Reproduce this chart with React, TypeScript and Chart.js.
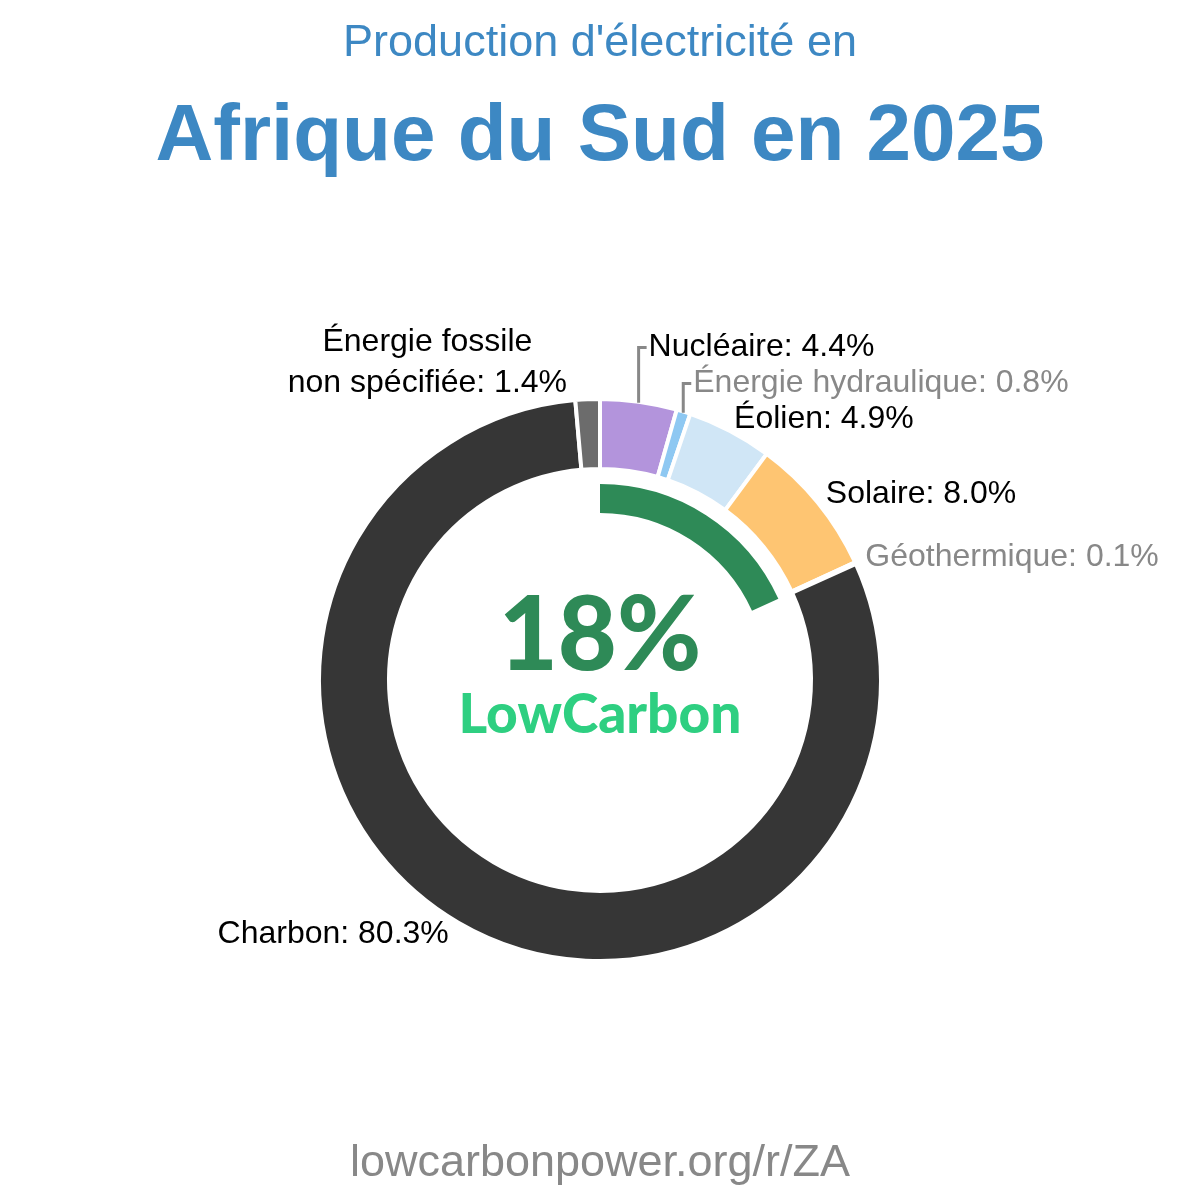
import React, { useEffect, useRef } from "react";
import { Chart, registerables } from "chart.js";

Chart.register(...registerables);

// ---- Data ----
const SOURCES = [
  "Nucléaire",
  "Énergie hydraulique",
  "Éolien",
  "Solaire",
  "Géothermique",
  "Charbon",
  "Énergie fossile non spécifiée",
];
const SHARES = [4.4, 0.8, 4.9, 8.0, 0.1, 80.3, 1.4];
const COLORS = ["#b394dc", "#8ec8f2", "#d0e6f6", "#fec572", "#d4673b", "#363636", "#6c6c6c"];
const IS_LOW_CARBON = [true, true, true, true, true, false, false];

const TITLE_LINE_1 = "Production d'électricité en";
const TITLE_LINE_2 = "Afrique du Sud en 2025";
const FOOTER = "lowcarbonpower.org/r/ZA";
const BRAND = "LowCarbon";

const LOW_CARBON_SHARE = SHARES.reduce((s, v, i) => (IS_LOW_CARBON[i] ? s + v : s), 0);

// ---- Styles ----
const TITLE_COLOR = "#3d88c3";
const GREEN_DARK = "#2e8a57";
const GREEN_BRAND = "#2ecf81";
const SANS = '"Liberation Sans", Arial, sans-serif';
const LATO = 'Lato, "Noto Sans", sans-serif';

function wrapName(name: string): string[] {
  if (name.length <= 24) return [name];
  const mid = name.length / 2;
  let best = -1;
  for (let i = 0; i < name.length; i++) {
    if (name[i] === " " && (best < 0 || Math.abs(i - mid) < Math.abs(best - mid))) best = i;
  }
  if (best < 0) return [name];
  return [name.slice(0, best), name.slice(best + 1)];
}

const decorPlugin = {
  id: "decor",
  afterDraw(chart: any) {
    const ctx: CanvasRenderingContext2D = chart.ctx;
    const W = chart.width;
    const meta = chart.getDatasetMeta(0);
    ctx.save();

    // Titles
    ctx.fillStyle = TITLE_COLOR;
    ctx.textAlign = "center";
    ctx.textBaseline = "alphabetic";
    ctx.font = `45px ${SANS}`;
    ctx.fillText(TITLE_LINE_1, W / 2, 56);
    ctx.font = `bold 80px ${SANS}`;
    ctx.fillText(TITLE_LINE_2, W / 2, 160);

    // Footer
    ctx.fillStyle = "#888888";
    ctx.font = `45px ${SANS}`;
    ctx.fillText(FOOTER, W / 2, 1176);

    const first = meta.data[0];
    const cx = first.x;
    const cy = first.y;

    // Center text
    ctx.fillStyle = GREEN_DARK;
    ctx.font = `900 102px ${LATO}`;
    ctx.fillText(`${Math.round(LOW_CARBON_SHARE)}%`, cx, cy - 10);
    ctx.fillStyle = GREEN_BRAND;
    ctx.font = `900 55px ${LATO}`;
    ctx.fillText(BRAND, cx, cy + 53);

    // Labels
    const items = meta.data.map((arc: any, i: number) => {
      const p = arc.getProps(["startAngle", "endAngle", "outerRadius", "x", "y"], true);
      const mid = (p.startAngle + p.endAngle) / 2;
      const r = p.outerRadius + 13;
      return {
        i,
        mid,
        ax: p.x + r * Math.cos(mid),
        ay: p.y + r * Math.sin(mid),
        ex: p.x + (p.outerRadius - 1) * Math.cos(mid),
        ey: p.y + (p.outerRadius - 1) * Math.sin(mid),
        right: Math.cos(mid) >= 0,
      };
    });

    ctx.font = `32px ${SANS}`;
    ctx.textBaseline = "middle";
    const labelText = (i: number) => `${SOURCES[i]}: ${SHARES[i].toFixed(1)}%`;
    const labelColor = (i: number) => (SHARES[i] < 1 ? "#888888" : "#000000");

    // Right side with upward collision avoidance
    const rightItems = items.filter((it: any) => it.right).sort((a: any, b: any) => b.mid - a.mid);
    let prevY = Infinity;
    for (const it of rightItems) {
      const y = Math.min(it.ay, prevY - 36);
      prevY = y;
      let tx = it.ax - 2;
      if (it.ay - y > 6) {
        ctx.strokeStyle = "#888888";
        ctx.lineWidth = 3;
        ctx.beginPath();
        ctx.moveTo(it.ex, it.ey);
        ctx.lineTo(it.ex, y);
        ctx.lineTo(it.ex + 8, y);
        ctx.stroke();
        tx = it.ex + 10;
      }
      ctx.fillStyle = labelColor(it.i);
      ctx.textAlign = "left";
      ctx.fillText(labelText(it.i), tx, y);
    }

    // Left side
    for (const it of items.filter((x: any) => !x.right)) {
      const lines = wrapName(SOURCES[it.i]);
      const suffix = `: ${SHARES[it.i].toFixed(1)}%`;
      ctx.fillStyle = labelColor(it.i);
      if (lines.length === 1) {
        ctx.textAlign = "right";
        ctx.fillText(labelText(it.i), it.ax - 3, it.ay);
      } else {
        lines[lines.length - 1] += suffix;
        const widths = lines.map((l) => ctx.measureText(l).width);
        const bw = Math.max(...widths);
        const right = it.ax - 20;
        const centerX = right - bw / 2;
        ctx.textAlign = "center";
        const lastY = it.ay - 3;
        lines.forEach((l, k) => {
          ctx.fillText(l, centerX, lastY - (lines.length - 1 - k) * 41);
        });
      }
    }

    ctx.restore();
  },
};

export default function App() {
  const ref = useRef<HTMLCanvasElement | null>(null);

  useEffect(() => {
    if (!ref.current) return;
    const chart = new Chart(ref.current, {
      type: "doughnut",
      data: {
        labels: SOURCES,
        datasets: [
          {
            data: SHARES,
            backgroundColor: COLORS,
            borderColor: "#ffffff",
            borderWidth: 4,
            hoverOffset: 0,
            weight: 70,
          } as any,
          {
            data: [1],
            backgroundColor: ["rgba(0,0,0,0)"],
            borderWidth: 0,
            hoverOffset: 0,
            weight: 15,
          } as any,
          {
            data: [LOW_CARBON_SHARE, 100 - LOW_CARBON_SHARE],
            backgroundColor: [GREEN_DARK, "rgba(0,0,0,0)"],
            borderWidth: 0,
            hoverOffset: 0,
            weight: 29,
          } as any,
        ],
      },
      options: {
        responsive: false,
        animation: false,
        devicePixelRatio: 1,
        events: [],
        cutout: 167,
        layout: { padding: { left: 317, right: 317, top: 397, bottom: 237 } },
        plugins: {
          legend: { display: false },
          tooltip: { enabled: false },
          title: { display: false },
        },
      } as any,
      plugins: [decorPlugin],
    });
    return () => chart.destroy();
  }, []);

  return (
    <div style={{ position: "absolute", left: 0, top: 0, width: 1200, height: 1200, background: "#ffffff" }}>
      <canvas ref={ref} width={1200} height={1200} style={{ display: "block" }} />
    </div>
  );
}
